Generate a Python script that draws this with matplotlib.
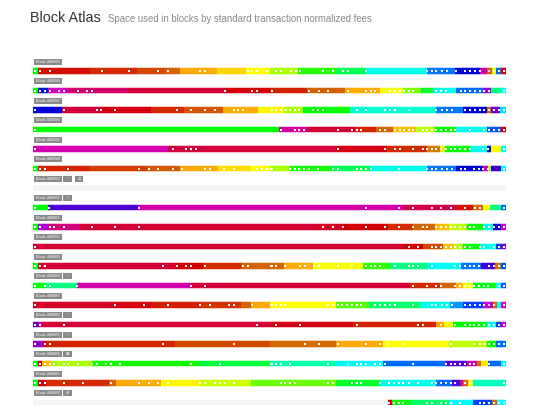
import colorsys
import matplotlib
matplotlib.use('Agg')
import matplotlib.pyplot as plt
from matplotlib.patches import Rectangle

# blocks, top to bottom
block_ids = [460899, 460898, 460897, 460896, 460895, 460894, 460893, 460892, 460891,
             460890, 460889, 460888, 460887, 460886, 460885, 460884, 460883, 460882]
badges = [[], [], [], [], [], [], ['!', '⊘'], ['!'], [], [], [], ['!'], [], ['!'], ['!'], ['⊠'], [], ['⊘']]

# start of each fee segment, in % of block space
seg_start = [
    [0, 1, 12, 22, 28, 31, 39, 45, 50, 56, 64, 70.5, 83.2, 89.2, 94.5, 95.9, 97, 97.9, 99],
    [0, 1, 3.2, 7.5, 20, 40.6, 50, 58, 66, 73.3, 78.3, 82, 84.6, 89.5, 95.2, 96.9, 99],
    [0, 6.2, 14, 25, 32, 40.2, 47.6, 53, 57, 67, 85.3, 91, 95.9, 96.9, 98.7],
    [0, 52, 58, 68, 72.6, 76.2, 81, 85, 89.5, 95.9, 99],
    [0, 28.6, 64, 74.8, 83.2, 86, 87.1, 92.4, 95.9, 96.9, 99],
    [0, 1, 12, 24, 31.1, 39.2, 46, 50, 54.3, 63, 71.2, 83.2, 89.5, 95.2, 96.2, 96.9, 99],
    [],
    [0, 3.2, 22.3, 78.3, 89.5, 93, 95.2, 96.6, 99],
    [0, 1, 3.2, 10, 60, 65.5, 75, 80.4, 85, 88, 91.7, 95.2, 97.3, 99],
    [0, 78.3, 82.5, 86.7, 89, 91, 94.5, 97.9, 99],
    [0, 1, 30, 36, 44, 53, 59.3, 69.8, 75.5, 83.6, 90.5, 94.8, 97.6, 99],
    [0, 2.5, 9.2, 33.5, 79.7, 86, 89.5, 91, 93, 97.9, 99],
    [0, 17, 25, 35, 44, 46, 50, 64, 71, 81.8, 88.1, 91, 95.2, 97.3, 98, 99],
    [0, 1, 2, 50, 67.7, 85.3, 86.8, 88.8, 95.9, 97.9, 99],
    [0, 2, 3, 30, 50, 64, 74, 88, 95.9, 97.9],
    [0, 1, 2, 4, 12.4, 35, 50, 64, 74, 87.4, 91.7, 93.8, 94.8, 96.2, 99],
    [0, 1, 2.8, 16, 17.5, 27, 35.4, 46, 64, 73.4, 85.3, 88.5, 90.3, 91, 92, 93],
    [75.1, 76, 80, 88, 93, 97, 98],
]
# fee colour of each segment, as hue in degrees
seg_hue = [
    [120, 4, 12, 20, 28, 40, 50, 60, 80, 110, 140, 175, 212, 238, 310, 28, 70, 215, 355],
    [120, 235, 305, 330, 345, 358, 10, 28, 40, 62, 90, 130, 175, 215, 285, 150, 180],
    [240, 345, 355, 12, 24, 40, 58, 80, 120, 170, 212, 240, 30, 270, 185],
    [120, 315, 345, 10, 28, 45, 75, 120, 175, 220, 355],
    [310, 343, 355, 12, 35, 55, 120, 175, 235, 60, 180],
    [120, 10, 18, 25, 40, 52, 62, 80, 115, 140, 175, 212, 238, 310, 80, 255, 180],
    [],
    [120, 262, 312, 340, 5, 30, 62, 150, 215],
    [120, 290, 325, 345, 350, 0, 12, 28, 45, 75, 120, 175, 245, 300],
    [345, 0, 20, 45, 75, 120, 175, 225, 275],
    [120, 345, 0, 12, 28, 40, 62, 110, 150, 178, 212, 258, 30, 220],
    [120, 150, 312, 345, 12, 28, 42, 62, 125, 180, 220],
    [348, 355, 8, 15, 28, 40, 60, 100, 145, 175, 205, 225, 295, 30, 180, 305],
    [268, 320, 345, 355, 10, 38, 60, 120, 178, 225, 305],
    [280, 345, 10, 20, 30, 40, 60, 75, 120, 215],
    [120, 355, 45, 80, 115, 135, 160, 178, 215, 265, 310, 30, 55, 215, 180],
    [120, 355, 12, 28, 40, 58, 72, 95, 130, 175, 215, 262, 310, 30, 62, 165],
    [355, 120, 145, 178, 225, 30, 180],
]
# transaction markers, in % of block space
dots = [
    [0.4, 1.5, 3.5, 14.5, 20.4, 26.5, 28.5, 35.4, 36.4, 45.4, 46.4, 47.4, 49.4, 51.4, 52.4, 54.5, 55.5,
     56.5, 61.4, 63.4, 65.5, 66.5, 70.4, 83.2, 84.3, 85.3, 86.4, 87.5, 89.4, 91.3, 92.4, 93.4, 94.4,
     96.5, 97.5, 98.5, 99.5],
    [0.4, 1.5, 2.5, 3.5, 5.4, 6.5, 9.5, 11.5, 12.5, 40.5, 46.4, 47.4, 50.5, 58.4, 60.5, 62.4, 66.5,
     70.4, 71.4, 72.4, 75.5, 76.5, 77.5, 78.5, 79.4, 80.4, 85.3, 86.3, 87.3, 90.4, 91.4, 92.4, 93.4,
     94.4, 95.4, 96.4, 99.5],
    [0.4, 6.5, 13.5, 14.4, 17.4, 30.4, 33.3, 36.4, 38.5, 42.4, 43.4, 44.4, 50.5, 51.4, 52.4, 53.4,
     54.3, 55.3, 56.3, 59.3, 60.3, 61.4, 68.4, 70.4, 74.4, 75.5, 76.5, 79.4, 85.3, 86.4, 87.5, 88.5,
     91.3, 92.4, 93.4, 94.4, 95.4, 96.4, 97.5, 98.5, 99.5],
    [0.4, 52.4, 55.3, 56.3, 57.3, 64.5, 67.4, 68.4, 69.4, 73.4, 74.4, 76.5, 77.5, 78.4, 79.4, 80.4,
     82.4, 83.4, 84.4, 85.3, 86.3, 87.3, 88.3, 89.3, 92.4, 95.4, 96.4, 97.4, 98.5, 99.5],
    [0.4, 29.5, 32.4, 33.4, 34.4, 64.5, 74.4, 76.5, 77.5, 80.4, 82.4, 83.4, 84.4, 85.3, 86.3, 87.3,
     88.3, 89.3, 90.3, 91.3, 92.3, 95.2, 96.2, 99.5],
    [0.4, 1.5, 2.5, 7.5, 22.4, 24.5, 26.5, 29.5, 31.4, 36.4, 37.4, 40.4, 42.4, 47.4, 48.4, 49.4, 50.5,
     50.4, 54.3, 55.3, 56.3, 57.3, 58.3, 60.3, 63.4, 64.4, 68.4, 69.4, 70.4, 71.4, 77.4, 83.2, 84.3,
     85.3, 86.4, 87.5, 88.5, 90.4, 91.4, 93.3, 94.3, 95.2, 96.2, 99.5],
    [],
    [0.4, 3.4, 22.4, 70.4, 77.4, 80.4, 84.4, 86.3, 88.3, 91.4, 93.4, 94.4, 99.5],
    [0.4, 1.5, 3.5, 4.4, 6.5, 12.5, 17.4, 22.4, 61.4, 63.4, 65.5, 70.4, 74.4, 77.4, 80.4, 82.4, 83.4,
     85.3, 86.3, 87.3, 88.3, 89.3, 90.3, 91.3, 92.3, 93.3, 95.4, 96.4, 97.4, 98.5, 99.5],
    [0.4, 79.4, 81.4, 84.4, 85.3, 86.3, 87.3, 88.3, 89.3, 90.3, 91.3, 92.3, 94.4, 95.4, 97.4, 98.5, 99.5],
    [0.4, 1.5, 2.5, 27.5, 30.4, 32.4, 33.4, 36.4, 44.4, 45.4, 50.5, 50.4, 51.4, 53.3, 56.4, 57.4,
     59.4, 60.4, 64.5, 67.4, 70.4, 71.4, 72.4, 73.4, 76.5, 79.4, 80.4, 81.4, 84.4, 89.3, 90.3, 91.3,
     92.3, 93.3, 94.3, 96.4, 97.4, 98.5, 99.5],
    [0.4, 2.5, 3.5, 9.4, 33.5, 36.4, 80.4, 83.4, 85.3, 86.3, 89.3, 90.3, 91.3, 92.3, 93.3, 94.3,
     95.3, 96.2, 98.5, 99.5],
    [0.4, 17.4, 23.5, 28.5, 35.4, 37.4, 41.4, 42.4, 46.4, 50.5, 50.4, 51.4, 52.4, 53.3, 62.4, 63.4,
     64.4, 65.4, 66.4, 67.4, 68.4, 69.4, 72.4, 73.4, 74.4, 75.5, 76.5, 80.4, 84.4, 85.3, 86.4, 87.5,
     88.5, 91.4, 92.4, 93.4, 94.4, 95.4, 96.4, 97.4, 99.5],
    [0.4, 1.5, 6.5, 47.4, 51.4, 56.4, 68.4, 81.4, 82.4, 86.3, 89.3, 91.3, 92.3, 93.3, 94.3, 95.3,
     96.4, 97.4, 98.5, 99.5],
    [0.4, 2.5, 3.5, 27.5, 42.4, 57.4, 60.4, 64.5, 70.4, 73.4, 75.3, 78.4, 88.4, 93.2, 94.4, 95.4,
     96.4, 97.4, 98.5, 99.5],
    [0.4, 1.5, 2.5, 3.5, 4.4, 6.5, 7.5, 9.5, 12.5, 13.5, 15.4, 16.4, 18.4, 33.4, 39.5, 50.5, 50.4,
     51.4, 52.4, 54.3, 62.4, 66.5, 68.4, 69.4, 70.4, 72.4, 73.4, 74.4, 80.4, 87.3, 88.3, 89.3, 90.3,
     91.3, 92.3, 93.3, 96.4, 99.5],
    [0.4, 1.5, 2.5, 6.5, 10.5, 16.4, 22.4, 24.5, 26.5, 28.5, 35.4, 36.4, 38.5, 39.5, 40.5, 42.4,
     52.4, 53.3, 54.3, 55.3, 62.4, 63.4, 67.4, 68.4, 69.4, 73.4, 75.3, 76.3, 77.3, 78.3, 79.4, 81.4,
     84.4, 85.3, 86.3, 87.3, 88.3, 89.3, 91.3, 92.3, 99.5],
    [75.3, 76.3, 77.3, 78.3, 83.4, 84.4, 86.3, 87.3, 88.3, 90.3, 94.4, 95.4, 96.4, 97.5, 98.5, 99.5],
]


def hue_color(h):
    v = 1.0 if 38 <= h <= 225 else 0.83
    return colorsys.hsv_to_rgb((h % 360) / 360.0, 1.0, v)


fig = plt.figure(figsize=(5.4, 4.05), dpi=100)
# x in % of block, y in rows
ax = fig.add_axes([33 / 540, 0, 473 / 540, 1])
ax.set_xlim(0, 100)
ax.set_ylim(17.128, -3.641)
ax.axis('off')

bar_h = 0.26
for i, bid in enumerate(block_ids):
    ax.barh(i, 100, left=0, height=bar_h, color='#f4f4f4', linewidth=0)
    starts = seg_start[i]
    if starts:
        ends = starts[1:] + [100]
        widths = [e - s for s, e in zip(starts, ends)]
        cols = [hue_color(h) for h in seg_hue[i]]
        ax.barh([i] * len(starts), widths, left=starts, height=bar_h + 0.12,
                color=cols, alpha=0.25, linewidth=0)
        ax.barh([i] * len(starts), widths, left=starts, height=bar_h,
                color=cols, linewidth=0)
    if dots[i]:
        ax.scatter(dots[i], [i] * len(dots[i]), marker='s', s=3.4, c='white',
                   linewidths=0, zorder=3)

    # label tag above the bar
    ly = i - 0.48
    ax.add_patch(Rectangle((0.2, ly - 0.155), 5.9, 0.31, facecolor='#8a8a8a',
                           edgecolor='none', clip_on=False))
    ax.text(3.15, ly, f'Block {bid}', color='white', fontsize=2.8,
            ha='center', va='center', family='Liberation Sans')
    for k, b in enumerate(badges[i]):
        bx = 6.4 + k * 2.5
        ax.add_patch(Rectangle((bx, ly - 0.155), 1.75, 0.31, facecolor='#8a8a8a',
                               edgecolor='none', clip_on=False))
        ax.text(bx + 0.875, ly, b, color='white', fontsize=3,
                ha='center', va='center', family='DejaVu Sans')

fig.text(30 / 540, 1 - 22.5 / 405, 'Block Atlas', fontsize=10.4, color='#333333',
         family='Liberation Sans', va='baseline')
fig.text(108 / 540, 1 - 22.5 / 405, 'Space used in blocks by standard transaction normalized fees',
         fontsize=6.9, color='#8a8a8a', family='Liberation Sans', va='baseline')

fig.savefig('out.png', dpi=100)
